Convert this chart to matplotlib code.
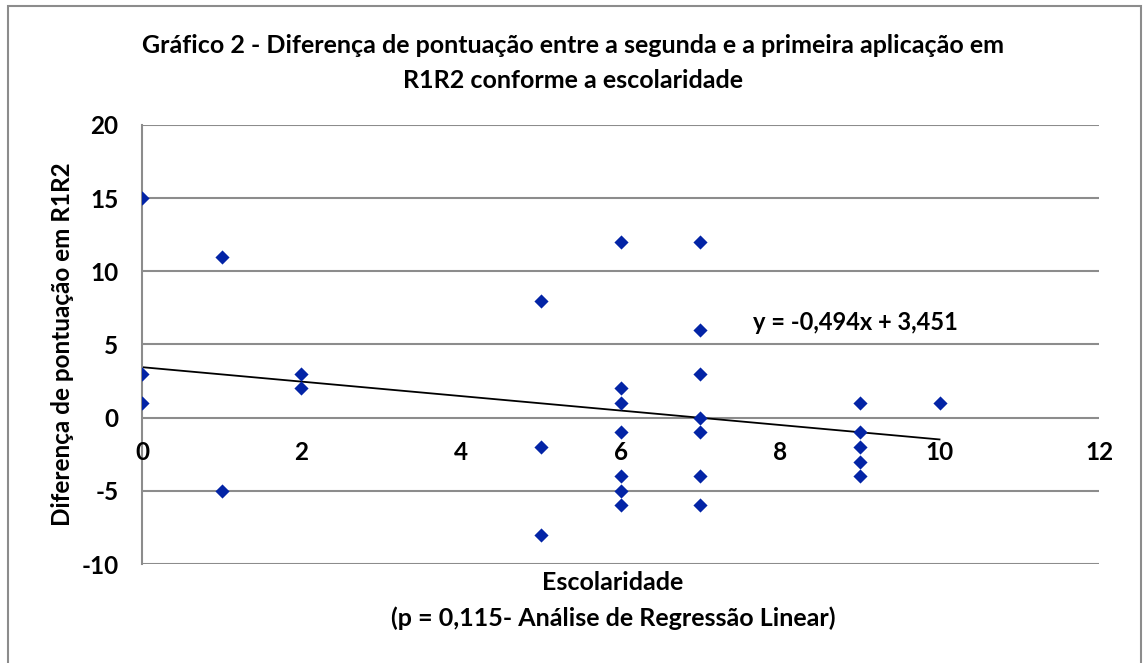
import matplotlib.pyplot as plt
from matplotlib.patches import Rectangle

plt.rcParams['font.family'] = ['Lato', 'DejaVu Sans']
plt.rcParams['font.weight'] = 'bold'
plt.rcParams['axes.labelweight'] = 'bold'
plt.rcParams['axes.unicode_minus'] = False

# escolaridade (anos) e diferença de pontuação R1R2
escolaridade = [0, 0, 0, 1, 1, 2, 2, 5, 5, 5,
                6, 6, 6, 6, 6, 6, 6,
                7, 7, 7, 7, 7, 7, 7,
                9, 9, 9, 9, 9, 10]
diferenca = [15, 3, 1, 11, -5, 3, 2, 8, -2, -8,
             12, 2, 1, -1, -4, -5, -6,
             12, 6, 3, 0, -1, -4, -6,
             1, -1, -2, -3, -4, 1]

slope = -0.494
intercept = 3.451
trend_x = [0, 10]

x_ticks = [0, 2, 4, 6, 8, 10, 12]
y_ticks = [-10, -5, 0, 5, 10, 15, 20]

fig = plt.figure(figsize=(11.46, 6.63), dpi=100)
ax = fig.add_axes([0.1239, 0.1493, 0.8351, 0.6622])

# moldura cinza em volta do gráfico
fig.patches.append(Rectangle((8 / 1146, -0.05), 1133 / 1146, 1.05 - 6 / 663,
                             transform=fig.transFigure, fill=False,
                             edgecolor='#8c8c8c', linewidth=1.5))

ax.scatter(escolaridade, diferenca, marker='D', s=52, color='#0324a6',
           zorder=3, linewidths=0)
ax.plot(trend_x, [slope * x + intercept for x in trend_x],
        color='black', linewidth=1.3, zorder=2)

ax.set_xlim(0, 12)
ax.set_ylim(-10, 20)
ax.set_yticks(y_ticks)
ax.set_xticks(x_ticks)
ax.grid(axis='y', color='#8c8c8c', linewidth=1.5)
ax.set_axisbelow(True)

for side in ['top', 'right', 'bottom']:
    ax.spines[side].set_visible(False)
ax.spines['left'].set_color('#8c8c8c')
ax.spines['left'].set_linewidth(1.5)

ax.tick_params(axis='both', length=0, labelsize=17.5)
ax.tick_params(axis='y', pad=17)
for lbl in ax.get_yticklabels():
    lbl.set_fontweight('bold')
ax.set_xticklabels([])
# rótulos do eixo x junto da linha y = 0
for t in x_ticks:
    ax.text(t, -2.4, str(t), ha='center', va='center', fontsize=17.5,
            fontweight='bold')

ax.text(8.94, 6.5, 'y = -0,494x + 3,451', fontsize=17, fontweight='bold',
        ha='center', va='center')

ax.set_ylabel('Diferença de pontuação em R1R2', fontsize=17.5, labelpad=5)
fig.text(0.535, 0.121, 'Escolaridade', ha='center', va='center', fontsize=18)
fig.text(0.535, 0.068, '(p = 0,115- Análise de Regressão Linear)',
         ha='center', va='center', fontsize=18)

fig.text(0.5, 0.932, 'Gráfico 2 - Diferença de pontuação entre a segunda e a primeira aplicação em',
         ha='center', va='center', fontsize=18)
fig.text(0.5, 0.879, 'R1R2 conforme a escolaridade',
         ha='center', va='center', fontsize=18)

fig.savefig('out.png', dpi=100)
